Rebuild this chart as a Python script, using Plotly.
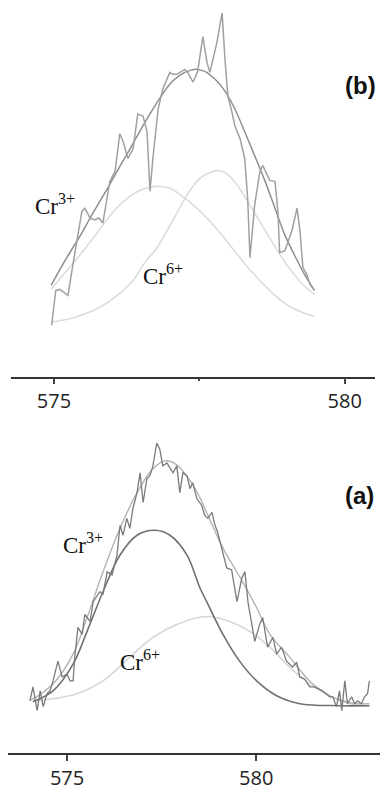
import plotly.graph_objects as go

# ---------------- panel (b) (top) ----------------
b_x = [574.96,575.03,575.10,575.24,575.33,575.48,575.53,575.62,575.70,575.77,575.84,575.91,575.96,576.05,
       576.13,576.19,576.27,576.36,576.44,576.53,576.60,576.65,576.70,576.79,576.87,576.99,577.04,577.11,
       577.25,577.30,577.39,577.47,577.56,577.63,577.68,577.80,577.89,577.94,577.99,578.06,578.11,578.20,
       578.28,578.33,578.37,578.45,578.54,578.59,578.71,578.80,578.85,578.88,578.97,579.09,579.18,579.23,
       579.28,579.35,579.40,579.48]
b_y = [52,87,88,82,115,167,170,160,158,160,155,180,197,207,
       245,237,220,230,265,263,247,187,220,270,290,307,305,305,
       310,307,297,308,343,317,307,337,367,320,283,267,253,240,
       220,180,120,173,207,213,198,197,167,125,127,147,170,147,
       110,103,93,87]

b_env_x = [574.95,575.10,575.27,575.45,575.62,575.79,575.96,576.13,576.31,576.48,576.65,576.82,576.99,577.16,
           577.34,577.46,577.59,577.77,577.94,578.11,578.28,578.45,578.63,578.80,578.97,579.14,579.31,579.48]
b_env_y = [92,108,125,142,160,177,194,212,230,248,265,281,295,304,
           309,310,308,300,288,270,247,223,197,170,143,122,103,87]

b_cr3_x = [574.95,575.19,575.45,575.70,575.96,576.22,576.48,576.74,576.99,577.25,577.51,577.77,578.02,578.28,
           578.54,578.80,579.05,579.31,579.48]
b_cr3_y = [88,105,123,142,162,178,188,192,190,180,167,151,133,114,97,82,71,64,61]

b_cr6_x = [574.95,575.36,575.79,576.13,576.36,576.56,576.77,576.99,577.16,577.34,577.51,577.68,577.80,577.94,
           578.14,578.42,578.71,579.00,579.28,579.48]
b_cr6_y = [55,60,70,84,97,115,130,152,170,188,200,206,208,206,194,168,140,113,93,83]

# ---------------- panel (a) (bottom) ----------------
a_x = [574.02,574.10,574.21,574.29,574.37,574.47,574.55,574.63,574.76,574.87,575.00,575.08,575.16,575.21,
       575.29,575.40,575.47,575.61,575.69,575.87,575.95,576.06,576.19,576.32,576.40,576.48,576.58,576.66,
       576.74,576.85,576.93,577.01,577.11,577.19,577.27,577.37,577.45,577.53,577.64,577.80,577.90,577.98,
       578.06,578.17,578.25,578.32,578.43,578.56,578.64,578.72,578.83,578.91,578.98,
       579.12,579.22,579.35,579.49,579.62,579.70,579.78,579.88,579.96,580.09,580.17,580.30,580.44,580.54,
       580.67,580.80,580.96,581.07,581.15,581.28,581.41,581.54,581.75,581.94,
       582.02,582.12,582.20,582.26,582.34,582.41,582.52,582.60,582.68,582.78,582.86,582.94,582.99]
a_y = [53,67,43,63,47,60,63,73,93,77,80,73,73,100,
       127,120,140,133,153,163,160,183,180,200,230,220,237,227,
       247,263,283,253,277,280,290,313,307,290,293,283,290,263,
       283,280,267,273,257,250,240,237,243,230,223,
       203,187,185,153,177,183,153,130,113,130,137,107,117,100,
       107,93,87,92,77,75,67,67,63,57,
       57,47,63,43,73,50,57,50,53,50,57,60,73]

a_env_x = [574.02,574.63,575.16,575.53,575.95,576.40,576.85,577.27,577.59,577.90,578.25,578.51,578.77,579.12,
           579.64,580.01,580.36,580.88,581.41,581.94,582.47,582.99]
a_env_y = [53,70,100,137,183,227,263,287,295,291,275,258,236,207,173,147,120,97,73,58,51,50]

a_cr3_x = [574.10,574.63,575.16,575.53,575.95,576.40,576.85,577.32,577.72,578.17,578.51,578.69,579.12,579.56,
           580.01,580.54,581.15,582.20,582.99]
a_cr3_y = [52,63,90,123,163,200,220,225,220,200,167,153,120,93,73,58,50,48,48]

a_cr6_x = [574.10,574.63,575.26,575.95,576.66,577.27,577.90,578.69,579.30,579.83,580.36,580.88,581.41,581.94,
           582.47,582.99]
a_cr6_y = [53,55,60,73,97,117,130,138,133,123,107,87,70,58,50,48]

tick_vals = [575, 580]
tick_text = ["575", "580"]

W, H = 380, 791
fig = go.Figure()

def add(x, y, color, width, axes, smooth):
    fig.add_trace(go.Scatter(x=x, y=y, mode="lines", xaxis=axes[0], yaxis=axes[1],
                             line=dict(color=color, width=width,
                                       shape="spline" if smooth else "linear",
                                       smoothing=1.0 if smooth else None),
                             showlegend=False, hoverinfo="skip"))

# top
add(b_cr3_x, b_cr3_y, "#dcdcdc", 1.6, ("x", "y"), True)
add(b_cr6_x, b_cr6_y, "#dcdcdc", 1.6, ("x", "y"), True)
add(b_env_x, b_env_y, "#8f8f8f", 1.5, ("x", "y"), True)
add(b_x, b_y, "#a0a0a0", 1.5, ("x", "y"), False)
# bottom
add(a_cr6_x, a_cr6_y, "#d6d6d6", 1.6, ("x2", "y2"), True)
add(a_cr3_x, a_cr3_y, "#707070", 1.6, ("x2", "y2"), True)
add(a_env_x, a_env_y, "#b4b4b4", 1.4, ("x2", "y2"), True)
add(a_x, a_y, "#7a7a7a", 1.3, ("x2", "y2"), False)

axis_common = dict(showline=True, linecolor="#333333", linewidth=1.6, ticks="outside",
                   ticklen=6, tickwidth=1.5, tickcolor="#444444", showgrid=False, zeroline=False,
                   tickvals=tick_vals, ticktext=tick_text,
                   tickfont=dict(family="Open Sans", size=20, color="#222222"))

fig.update_layout(
    width=W, height=H, margin=dict(l=0, r=0, t=0, b=0),
    paper_bgcolor="white", plot_bgcolor="white",
    xaxis=dict(domain=[11/W, 375/W], range=[574.26, 580.52], anchor="y",
               minor=dict(tickvals=[577.5], ticklen=3, tickcolor="#444444", ticks="outside"),
               **axis_common),
    yaxis=dict(domain=[1-380/H, 1], range=[0, 380], visible=False, anchor="x"),
    xaxis2=dict(domain=[8/W, 1], range=[573.44, 583.27], anchor="y2", **axis_common),
    yaxis2=dict(domain=[1-760/H, 1-400/H], range=[0, 360], visible=False, anchor="x2"),
)

def label(text, px, py, size=23, family="Liberation Serif", bold=False):
    fig.add_annotation(text=f"<b>{text}</b>" if bold else text, xref="paper", yref="paper",
                       x=px/W, y=1-py/H, xanchor="left", yanchor="middle", showarrow=False,
                       font=dict(family=family, size=size, color="#111111"))

label("Cr<sup>3+</sup>", 33, 206)
label("Cr<sup>6+</sup>", 141, 277)
label("Cr<sup>3+</sup>", 61, 548)
label("Cr<sup>6+</sup>", 118, 666)
label("(b)", 343, 86, size=24, family="Liberation Sans", bold=True)
label("(a)", 343, 500, size=24, family="Liberation Sans", bold=True)

fig.write_html("out.html")
